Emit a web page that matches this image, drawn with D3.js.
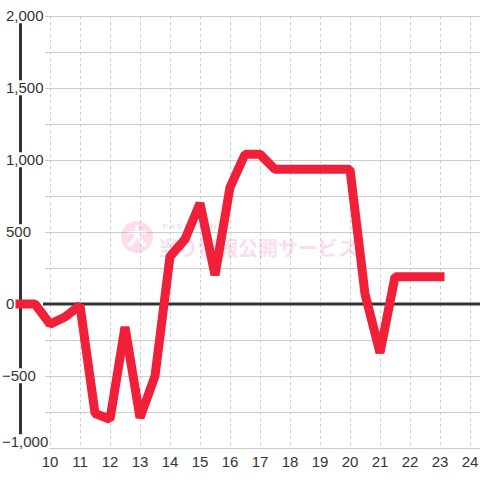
<!DOCTYPE html>
<html>
<head>
<meta charset="utf-8">
<script src="https://cdn.jsdelivr.net/npm/d3@7"></script>
<style>
  body { margin: 0; background: #fff; }
  svg { display: block; }
</style>
</head>
<body>
<svg id="chart" width="480" height="480"></svg>
<script>
// 時刻 (30分刻み) と差枚
const hours = [9, 9.5, 10, 10.5, 11, 11.5, 12, 12.5, 13, 13.5, 14, 14.5, 15, 15.5,
    16, 16.5, 17, 17.5, 18, 18.5, 19, 19.5, 20, 20.5, 21, 21.5, 22, 22.5, 23];
const values = [0, 0, -140, -90, -10, -760, -800, -160, -790, -500, 330, 450, 700, 200,
    810, 1040, 1040, 935, 935, 935, 935, 935, 935, 70, -340, 190, 190, 190, 190];
const xTicks = [10, 11, 12, 13, 14, 15, 16, 17, 18, 19, 20, 21, 22, 23, 24];
const yGrid = [-1000, -750, -500, -250, 0, 250, 500, 750, 1000, 1250, 1500, 1750, 2000];
const yLabels = [-1000, -500, 0, 500, 1000, 1500, 2000];

const svg = d3.select("#chart");
const W = 480, H = 480;

const x = d3.scaleLinear().domain([9, 24 + 1 / 3]).range([20, 480]);
const y = d3.scaleLinear().domain([-1000, 2000]).range([448, 16]);

// 横グリッド
svg.append("g")
    .selectAll("line")
    .data(yGrid)
    .join("line")
    .attr("x1", 45).attr("x2", W)
    .attr("y1", d => y(d) + 0.5).attr("y2", d => y(d) + 0.5)
    .attr("stroke", "#ccc")
    .attr("stroke-width", 1);

// 縦グリッド (点線)
svg.append("g")
    .selectAll("line")
    .data(xTicks)
    .join("line")
    .attr("x1", d => x(d) + 0.5).attr("x2", d => x(d) + 0.5)
    .attr("y1", y(2000)).attr("y2", y(-1000))
    .attr("stroke", "#ccc")
    .attr("stroke-dasharray", "3,3")
    .attr("stroke-width", 1);

// ゼロライン
svg.append("line")
    .attr("x1", 43).attr("x2", W)
    .attr("y1", y(0)).attr("y2", y(0))
    .attr("stroke", "#333")
    .attr("stroke-width", 3);

// Y軸
svg.append("line")
    .attr("x1", 20.5).attr("x2", 20.5)
    .attr("y1", y(2000)).attr("y2", y(-1000))
    .attr("stroke", "#333")
    .attr("stroke-width", 3);

// Y軸ラベル (白背景つき)
const fmt = d3.format(",");
const yl = svg.append("g")
    .style("font-family", "'Liberation Sans', Arial, sans-serif")
    .style("font-size", "15px")
    .attr("fill", "#333");
yLabels.forEach(v => {
    const t = yl.append("text")
        .attr("x", v < 0 ? 2 : 6)
        .attr("y", Math.min(y(v), 442))
        .attr("dy", "0.35em")
        .text(fmt(v));
    const b = t.node().getBBox();
    yl.insert("rect", "text")
        .attr("x", b.x - 1).attr("y", b.y + 1)
        .attr("width", b.width + 2).attr("height", b.height - 2)
        .attr("fill", "#fff");
});

// X軸ラベル
svg.append("g")
    .style("font-family", "'Liberation Sans', Arial, sans-serif")
    .style("font-size", "15px")
    .attr("fill", "#333")
    .selectAll("text")
    .data(xTicks)
    .join("text")
    .attr("x", d => x(d))
    .attr("y", 467)
    .attr("text-anchor", "middle")
    .text(d => d);

// ウォーターマーク
const wm = svg.append("g").attr("opacity", 0.22);
wm.append("circle")
    .attr("cx", 137).attr("cy", 237).attr("r", 16)
    .attr("fill", "#f06aa8");
wm.append("text")
    .attr("x", 137).attr("y", 244)
    .attr("text-anchor", "middle")
    .attr("fill", "#fff")
    .style("font-family", "'Noto Sans CJK JP', sans-serif")
    .style("font-weight", "bold")
    .style("font-size", "22px")
    .text("大");
wm.append("text")
    .attr("x", 163).attr("y", 229)
    .attr("fill", "#f06aa8")
    .style("font-family", "'Liberation Sans', Arial, sans-serif")
    .style("font-weight", "bold")
    .style("font-size", "8px")
    .style("letter-spacing", "2px")
    .text("PAPIMO-NET");
wm.append("text")
    .attr("x", 158).attr("y", 256)
    .attr("fill", "#f06aa8")
    .style("font-family", "'Noto Sans CJK JP', sans-serif")
    .style("font-weight", "bold")
    .style("font-size", "20px")
    .text("当り情報公開サービス");

// 差枚ライン
const line = d3.line()
    .x((d, i) => x(hours[i]))
    .y(d => y(d));

svg.append("path")
    .datum(values)
    .attr("fill", "none")
    .attr("stroke", "#ef2038")
    .attr("stroke-width", 9)
    .attr("stroke-linecap", "square")
    .attr("stroke-linejoin", "bevel")
    .attr("d", line);
</script>
</body>
</html>
